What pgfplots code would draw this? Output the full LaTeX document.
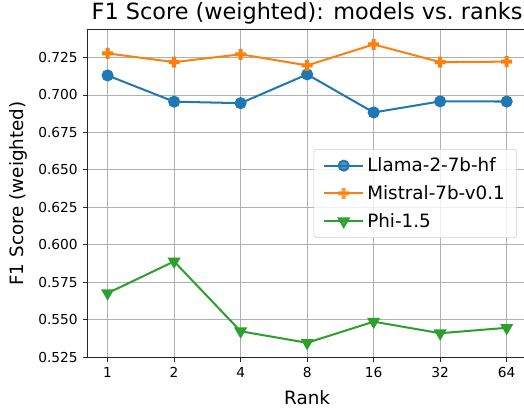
\documentclass[border=0pt]{standalone}
\usepackage{pgfplots}
\pgfplotsset{compat=1.18}
\usepackage{fontspec}
\setmainfont{DejaVu Sans}
\definecolor{tabblue}{HTML}{1F77B4}
\definecolor{taborange}{HTML}{FF7F0E}
\definecolor{tabgreen}{HTML}{2CA02C}
\pgfdeclareplotmark{Pplus}{%
  \pgfpathrectangle{\pgfpoint{-\pgfplotmarksize}{-0.36\pgfplotmarksize}}{\pgfpoint{2\pgfplotmarksize}{0.72\pgfplotmarksize}}%
  \pgfpathrectangle{\pgfpoint{-0.36\pgfplotmarksize}{-\pgfplotmarksize}}{\pgfpoint{0.72\pgfplotmarksize}{2\pgfplotmarksize}}%
  \pgfusepathqfill}
\begin{document}
\begin{tikzpicture}
\begin{axis}[
  width=316.1pt, height=236.2pt, scale only axis,
  xmin=-0.3, xmax=6.3, ymin=0.5248, ymax=0.7437,
  xtick={0,1,2,3,4,5,6}, xticklabels={1,2,4,8,16,32,64},
  ytick={0.525,0.550,0.575,0.600,0.625,0.650,0.675,0.700,0.725},
  yticklabel style={/pgf/number format/.cd, fixed, fixed zerofill, precision=3},
  /pgf/number format/assume math mode=true,
  tick label style={font=\fontsize{9.9}{12}\selectfont},
  title={F1 Score (weighted): models vs.\ ranks},
  every axis title/.style={at={(rel axis cs:0.5,1)}, anchor=base, yshift=6.8pt, inner sep=0pt, font=\fontsize{16.1}{20}\selectfont},
  xlabel={Rank}, ylabel={F1 Score (weighted)},
  every axis x label/.style={at={(rel axis cs:0.5,0)}, yshift=-29.2pt, anchor=center, font=\fontsize{13.2}{16}\selectfont},
  every axis y label/.style={at={(rel axis cs:0,0.5)}, xshift=-49.5pt, rotate=90, anchor=center, font=\fontsize{13.2}{16}\selectfont},
  grid=major, grid style={color=black!31, line width=0.6pt},
  axis line style={black!85, line width=0.6pt},
  tick align=outside, tick pos=left,
  major tick length=3.6pt,
  tick style={black!85, line width=0.6pt},
  legend style={at={(rel axis cs:1,0.5)}, anchor=east, xshift=-7pt,
    draw=black!20, rounded corners=2pt, fill=white, fill opacity=0.8, text opacity=1,
    font=\fontsize{13.2}{16}\selectfont, row sep=4.5pt, inner xsep=6.5pt, inner ysep=4pt},
  legend cell align=left,
  legend image code/.code={\draw[mark repeat=2,mark phase=2] plot coordinates {(0cm,0cm) (0.5cm,0cm) (1cm,0cm)};},
]
\addplot[color=tabblue, line width=1.45pt, mark=*, mark size=3.6pt, mark options={solid}]
  coordinates {(0,0.7130) (1,0.6955) (2,0.6945) (3,0.7137) (4,0.6883) (5,0.6957) (6,0.6956)};
\addlegendentry{Llama-2-7b-hf}
\addplot[color=taborange, line width=1.45pt, mark=Pplus, mark size=4pt, mark options={solid}]
  coordinates {(0,0.7277) (1,0.7219) (2,0.7271) (3,0.7197) (4,0.7337) (5,0.7219) (6,0.7222)};
\addlegendentry{Mistral-7b-v0.1}
\addplot[color=tabgreen, line width=1.45pt, mark=triangle*, mark size=4pt, mark options={solid, rotate=180}]
  coordinates {(0,0.5677) (1,0.5889) (2,0.5423) (3,0.5346) (4,0.5487) (5,0.5410) (6,0.5446)};
\addlegendentry{Phi-1.5}
\end{axis}
\pgfresetboundingbox
\path[use as bounding box] ([xshift=-63.1pt,yshift=-38.5pt]current axis.south west) rectangle ([xshift=-1.9pt,yshift=21.2pt]current axis.north east);
\end{tikzpicture}
\end{document}
